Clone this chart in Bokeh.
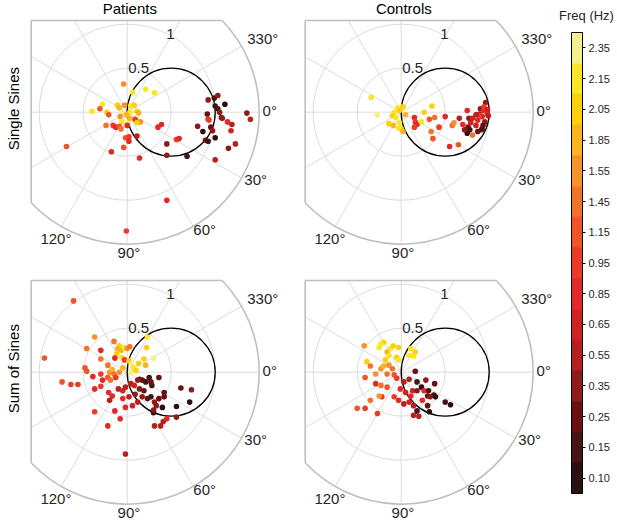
import numpy as np
from bokeh.plotting import figure
from bokeh.models import ColumnDataSource, LinearColorMapper, ColorBar, FixedTicker, Range1d
from bokeh.layouts import row, column
from bokeh.transform import transform
from bokeh.core.properties import value
from bokeh.embed import file_html
from bokeh.resources import INLINE

# ---------------- data ----------------
freq_levels = [0.10, 0.15, 0.25, 0.35, 0.55, 0.65, 0.85, 0.95, 1.15, 1.45, 1.55, 1.85, 2.05, 2.15, 2.35]
freq_tick_labels = ["0.10", "0.15", "0.25", "0.35", "0.55", "0.65", "0.85", "0.95",
                    "1.15", "1.45", "1.55", "1.85", "2.05", "2.15", "2.35"]
col_titles = ["Patients", "Controls"]
row_titles = ["Single Sines", "Sum of Sines"]
r_ticks = [0.5, 1]
r_tick_labels = ["0.5", "1"]
r_max = 1.5
theta_grid = [0, 30, 60, 90, 120, 150, 180, 210, 240, 270, 300, 330]
theta_ticks = [330, 0, 30, 60, 90, 120]
theta_tick_labels = ["330°", "0°", "30°", "60°", "90°", "120°"]
ref_center = 0.5
ref_radius = 0.5

# Patients, single sines (real / imaginary part of gain, frequency in Hz)
pat_single_re = [-0.04, 0.06, 0.21, 0.31, -0.28, -0.40, -0.31, -0.23, -0.21, -0.11, -0.09, -0.06, -0.03, 0.04,
                 0.08, 0.11, 0.13, 0.03, -0.01, -0.08, -0.06, 0.01, 0.03, 0.09, 0.15, 0.11, -0.24, -0.16,
                 -0.13, -0.09, -0.07, 0.00, -0.02, 0.02, 0.02, -0.04, -0.18, 0.14, 0.11, -0.69, 0.35, 0.39,
                 0.45, 0.56, 0.59, 0.45, 0.68, 0.80, 0.86, 0.89, 0.92, 0.95, 0.97, 1.00, 0.92, 0.93,
                 0.91, 0.92, 0.99, 1.03, 1.00, 1.11, 1.03, 1.05, 1.07, 1.08, 1.14, 1.19, 1.18, 1.23,
                 1.15, 1.36, 1.40, 1.00, 0.45, -0.01]
pat_single_im = [0.32, 0.23, 0.26, 0.22, 0.09, 0.01, 0.04, 0.00, -0.03, 0.08, 0.05, 0.00, 0.08, 0.07,
                 0.08, 0.01, -0.01, 0.00, -0.03, -0.05, -0.11, -0.11, -0.07, -0.08, -0.11, -0.12, -0.15, -0.15,
                 -0.17, -0.16, -0.19, -0.15, -0.29, -0.28, -0.33, -0.40, -0.45, -0.52, -0.27, -0.39, -0.17, -0.14,
                 -0.36, -0.31, -0.30, -0.49, -0.50, -0.16, -0.22, -0.32, -0.33, -0.17, -0.21, -0.29, -0.08, -0.09,
                 -0.02, 0.14, 0.16, 0.19, 0.07, 0.09, 0.04, 0.00, -0.06, -0.07, -0.11, -0.14, -0.21, -0.36,
                 -0.41, -0.01, -0.08, -0.54, -1.00, -1.35]
pat_single_freq = [1.55, 2.15, 2.15, 2.15, 2.15, 2.15, 1.15, 2.05, 1.15, 2.05, 1.85, 2.35, 1.55, 2.15,
                   2.05, 2.05, 1.85, 2.15, 1.85, 1.55, 2.15, 2.35, 1.85, 0.95, 1.55, 2.05, 1.45, 0.95,
                   0.85, 1.15, 1.45, 0.85, 1.15, 0.95, 0.85, 1.15, 0.85, 0.85, 0.55, 1.15, 0.85, 0.85,
                   0.35, 0.95, 0.85, 0.35, 0.15, 0.35, 0.10, 0.25, 0.15, 0.25, 0.35, 0.10, 0.85, 0.95,
                   0.25, 0.35, 0.15, 0.35, 0.15, 0.10, 0.15, 0.35, 0.25, 0.35, 0.85, 0.55, 0.65, 0.55,
                   0.35, 0.35, 0.55, 0.55, 0.85, 0.95]

# Controls, single sines
ctl_single_re = [-0.34, -0.27, -0.04, -0.02, 0.02, -0.08, -0.10, -0.06, -0.14, -0.09, -0.02, 0.00, 0.02, -0.03,
                 0.05, 0.15, 0.16, 0.18, 0.15, 0.23, 0.26, 0.35, 0.32, 0.38, 0.34, 0.36, 0.43, 0.50,
                 0.58, 0.60, 0.66, 0.70, 0.55, 0.65, 0.75, 0.77, 0.81, 0.76, 0.78, 0.75, 0.81, 0.85,
                 0.87, 0.89, 0.90, 0.94, 0.92, 0.96, 0.98, 0.91, 0.87, 0.92, 0.95, 0.99, 0.94, 0.89,
                 0.85, 0.79, 0.72, 0.93, 0.98]
ctl_single_im = [0.17, -0.03, 0.05, 0.02, 0.06, 0.00, -0.04, -0.06, -0.13, -0.15, -0.12, -0.19, -0.22, -0.18,
                 -0.03, -0.06, -0.11, -0.14, -0.17, -0.11, 0.00, 0.07, -0.08, -0.06, -0.22, -0.30, -0.17, -0.05,
                 -0.15, -0.12, -0.07, -0.14, -0.39, -0.37, 0.02, -0.07, -0.07, -0.17, -0.20, -0.24, -0.26, -0.15,
                 -0.09, -0.02, 0.04, 0.02, -0.05, 0.11, -0.02, -0.20, -0.22, -0.19, -0.11, -0.04, 0.06, -0.04,
                 -0.03, -0.12, -0.20, -0.15, 0.03]
ctl_single_freq = [2.15, 2.35, 2.15, 2.05, 2.05, 2.15, 2.05, 2.15, 2.05, 1.85, 2.15, 2.05, 1.85, 2.15,
                   1.85, 0.85, 0.95, 0.85, 0.95, 2.15, 2.05, 2.05, 1.15, 1.45, 1.45, 1.15, 0.95, 0.85,
                   1.45, 1.55, 0.55, 0.85, 0.85, 1.15, 0.85, 0.35, 0.65, 0.25, 0.15, 0.10, 1.45, 0.65,
                   0.85, 0.55, 0.35, 0.85, 0.65, 0.35, 0.85, 0.55, 0.25, 0.15, 0.35, 0.55, 0.95, 0.95,
                   0.55, 0.65, 0.35, 0.25, 0.65]

# Patients, sum of sines
pat_sum_re = [-0.61, -0.94, -0.46, -0.37, -0.30, -0.30, -0.15, -0.74, -0.64, -0.56, -0.48, -0.46, -0.39, -0.37,
              -0.37, -0.22, -0.08, -0.02, -0.20, -0.30, 0.23, 0.22, 0.30, 0.31, 0.38, 0.41, 0.45, 0.56,
              0.40, 0.56, 0.71, 0.61, 0.73, 0.42, 0.42, 0.36, 0.28, 0.30,
              -0.09, -0.11, -0.07, -0.03, 0.00, 0.03, -0.12, -0.14, -0.06, -0.03, 0.02, 0.05, 0.07, 0.10,
              0.04, 0.13, 0.19, 0.21, -0.22, -0.20, -0.17, -0.15, -0.22, -0.19, -0.13, -0.09, -0.05, -0.30,
              -0.28, -0.21, -0.17, -0.10, -0.05, -0.02, 0.04, -0.05, 0.02, 0.09, 0.14, 0.17, 0.21, 0.25,
              0.27, 0.14, 0.19, 0.17, 0.23, 0.27, 0.31, 0.33, 0.36, 0.12, 0.06, -0.02, -0.14, 0.30,
              0.08, 0.12]
pat_sum_im = [0.81, 0.16, 0.27, 0.40, 0.25, 0.15, 0.35, -0.11, -0.14, -0.14, 0.05, 0.01, -0.05, -0.19,
              -0.45, -0.61, -0.53, -0.93, -0.32, -0.16, 0.40, 0.28, 0.16, -0.61, -0.61, -0.56, -0.53, -0.51,
              -0.40, -0.39, -0.34, -0.18, -0.20, -0.23, -0.28, -0.06, -0.15, -0.46,
              0.30, 0.27, 0.25, 0.28, 0.27, 0.29, 0.21, 0.16, 0.17, 0.14, 0.13, 0.09, 0.05, 0.02,
              0.00, 0.10, 0.15, 0.08, 0.08, 0.00, 0.03, -0.02, -0.06, -0.09, -0.06, 0.00, 0.05, -0.02,
              -0.09, -0.23, -0.27, -0.19, -0.21, -0.17, -0.13, -0.30, -0.28, -0.25, -0.08, -0.09, -0.11, -0.06,
              -0.11, -0.19, -0.21, -0.28, -0.30, -0.28, -0.34, -0.38, -0.30, -0.34, -0.38, -0.40, -0.44, -0.43,
              -0.15, -0.09]
pat_sum_freq = [1.15, 1.15, 1.45, 1.55, 0.85, 1.45, 1.45, 1.15, 0.95, 0.95, 1.15, 1.15, 0.85, 0.85,
                0.95, 0.85, 0.85, 0.55, 0.55, 0.95, 2.15, 2.05, 2.35, 0.55, 0.55, 0.55, 0.85, 0.35,
                0.10, 0.10, 0.10, 0.25, 0.35, 0.25, 0.25, 0.25, 0.15, 0.10,
                2.05, 1.85, 1.85, 2.15, 1.55, 1.45, 2.05, 0.85, 2.15, 0.95, 2.05, 2.35, 2.15, 2.05,
                2.35, 2.05, 2.05, 1.85, 1.45, 1.55, 1.85, 1.45, 1.15, 1.45, 0.95, 1.55, 1.85, 0.95,
                0.85, 0.85, 0.85, 0.55, 0.65, 0.55, 0.55, 0.85, 0.55, 0.35, 0.25, 0.25, 0.15, 0.15,
                0.25, 0.35, 0.25, 0.35, 0.25, 0.15, 0.35, 0.35, 0.25, 0.55, 0.65, 0.85, 0.85, 0.35,
                0.65, 0.35]

# Controls, sum of sines
ctl_sum_re = [-0.42, -0.25, -0.20, -0.23, -0.16, -0.12, -0.09, -0.03, -0.05, -0.03, -0.14, -0.18, 0.11, 0.16,
              0.14, 0.09, -0.39, -0.35, -0.41, -0.29, -0.23, -0.20, -0.14, -0.10, -0.16, -0.08, -0.05, -0.29,
              -0.23, -0.16, -0.22, -0.25, -0.35, -0.50, -0.41, -0.27, -0.08, -0.01, 0.03, 0.09, 0.05, 0.11,
              0.13, 0.16, 0.18, 0.23, 0.18, 0.26, 0.30, 0.31, 0.37, 0.39, 0.38, 0.28, 0.33, 0.24,
              0.14, 0.09, 0.18, 0.30, 0.50, 0.56, 0.32, 0.14, 0.20, 0.03, -0.03]
ctl_sum_im = [0.30, 0.28, 0.34, 0.32, 0.23, 0.27, 0.30, 0.28, 0.17, 0.14, 0.19, 0.14, 0.27, 0.23,
              0.18, 0.19, 0.12, 0.07, -0.06, -0.02, 0.04, 0.07, 0.08, 0.04, -0.02, -0.03, -0.07, -0.13,
              -0.15, -0.17, -0.28, -0.27, -0.32, -0.41, -0.41, -0.47, -0.28, -0.19, -0.11, -0.08, -0.23, -0.27,
              -0.21, 0.01, -0.11, -0.17, -0.21, -0.21, -0.27, -0.21, -0.26, -0.28, -0.13, -0.09, -0.28, -0.32,
              -0.38, -0.34, -0.44, -0.38, -0.34, -0.37, -0.45, -0.49, -0.50, -0.36, -0.32]
ctl_sum_freq = [1.55, 2.15, 2.05, 2.15, 1.85, 2.15, 2.05, 2.05, 2.05, 2.15, 2.15, 2.05, 2.15, 2.05,
                2.15, 2.15, 2.05, 1.45, 1.15, 1.55, 1.55, 1.85, 1.55, 1.45, 1.45, 1.15, 0.95, 0.85,
                1.45, 1.15, 0.95, 1.55, 1.45, 1.15, 0.95, 0.95, 0.95, 0.85, 0.55, 0.55, 0.65, 0.85,
                0.65, 0.25, 0.15, 0.10, 0.35, 0.85, 0.25, 0.15, 0.15, 0.10, 0.25, 0.35, 0.35, 0.85,
                0.55, 0.65, 0.15, 0.25, 0.15, 0.10, 0.10, 0.55, 0.55, 0.55, 0.85]

# ---------------- style / layout ----------------
palette = ["#2b1010", "#461414", "#6a1010", "#8e1a1a", "#b52020", "#d02222", "#e22828", "#ea3a28",
           "#ee5529", "#f2742a", "#f6922a", "#fab41f", "#fdd10a", "#fbe625", "#f4ef8c"]
FONT = "Liberation Sans"
UNIT = 88.0              # px per gain unit
X_CLIP = -96.0 / UNIT
Y_CLIP = 91.7 / UNIT
GRID_COLOR = "#dcdcdc"
EDGE_COLOR = "#bfbfbf"
TEXT_COLOR = "#262626"
col_w = [278, 278]
row_h = [262, 264]
origin_x = [126.7, 122.7]   # polar origin inside each column figure, px
origin_y = [111.7, 109.7]   # polar origin inside each row figure, px
CB_W, CB_H = 61, 526

mapper = LinearColorMapper(palette=palette, low=-0.5, high=len(freq_levels) - 0.5)

theta_label_pos = {330: (1.54, 0.84), 0: (1.62, 0.02), 30: (1.46, -0.76),
                   60: (0.88, -1.33), 90: (0.02, -1.59), 120: (-0.81, -1.43)}
r_label_pos = {0.5: (0.13, 0.50), 1: (0.49, 0.89)}


def make_panel(re, im, fr, w, h, ox, oy, col_title=None, row_title=None):
    p = figure(width=w, height=h, output_backend="svg", toolbar_location=None,
               x_range=Range1d(-ox / UNIT, (w - ox) / UNIT),
               y_range=Range1d(-(h - oy) / UNIT, oy / UNIT),
               min_border=0, min_border_left=0, min_border_right=0, min_border_top=0, min_border_bottom=0)
    p.axis.visible = False
    p.grid.visible = False
    p.outline_line_color = None
    p.background_fill_color = "white"
    p.border_fill_color = "white"

    # angular grid lines, clipped to the visible region
    x1s, y1s = [], []
    for a in theta_grid:
        t = -np.radians(a)
        c, s = np.cos(t), np.sin(t)
        r_end = r_max
        if c < -1e-9:
            r_end = min(r_end, X_CLIP / c)
        if s > 1e-9:
            r_end = min(r_end, Y_CLIP / s)
        x1s.append(r_end * c)
        y1s.append(r_end * s)
    p.segment(x0=[0] * len(x1s), y0=[0] * len(y1s), x1=x1s, y1=y1s,
              line_color=GRID_COLOR, line_width=1)
    # radial grid circles
    p.circle(x=[0] * len(r_ticks), y=[0] * len(r_ticks), radius=r_ticks,
             fill_color=None, line_color=GRID_COLOR, line_width=1)
    # outer boundary
    x_top = np.sqrt(r_max ** 2 - Y_CLIP ** 2)
    y_left = -np.sqrt(r_max ** 2 - X_CLIP ** 2)
    a_start = np.arctan2(y_left, X_CLIP)
    a_end = np.arctan2(Y_CLIP, x_top)
    p.arc(x=[0], y=[0], radius=r_max, start_angle=a_start, end_angle=a_end,
          direction="anticlock", line_color=EDGE_COLOR, line_width=1.6)
    p.segment(x0=[X_CLIP, X_CLIP], y0=[Y_CLIP, Y_CLIP], x1=[x_top, X_CLIP], y1=[Y_CLIP, y_left],
              line_color=EDGE_COLOR, line_width=1.6)

    # reference circle
    p.circle(x=[ref_center], y=[0], radius=ref_radius, fill_color=None,
             line_color="black", line_width=1.3)

    lvl = [freq_levels.index(f) for f in fr]
    src = ColumnDataSource(dict(re=re, im=im, freq=fr, lvl=lvl))
    p.scatter("re", "im", source=src, size=5.6, marker="circle",
              fill_color=transform("lvl", mapper), line_color=None)

    # tick labels
    p.text(x=[theta_label_pos[a][0] for a in theta_ticks], y=[theta_label_pos[a][1] for a in theta_ticks],
           text=theta_tick_labels, text_font=value(FONT), text_font_size="15px",
           text_color=TEXT_COLOR, text_align="center", text_baseline="middle")
    p.text(x=[r_label_pos[r][0] for r in r_ticks], y=[r_label_pos[r][1] for r in r_ticks],
           text=r_tick_labels, text_font=value(FONT), text_font_size="15px",
           text_color=TEXT_COLOR, text_align="center", text_baseline="middle")

    if col_title:
        p.text(x=[0.03], y=[(oy - 8.0) / UNIT], text=[col_title], text_font=value(FONT),
               text_font_size="15px", text_color="black", text_align="center", text_baseline="middle")
    if row_title:
        p.text(x=[(12.5 - ox) / UNIT], y=[0.04], text=[row_title], text_font=value(FONT),
               text_font_size="15px", text_color="black", text_align="center", text_baseline="middle",
               angle=np.pi / 2)
    return p


p_tl = make_panel(pat_single_re, pat_single_im, pat_single_freq, col_w[0], row_h[0],
                  origin_x[0], origin_y[0], col_titles[0], row_titles[0])
p_tr = make_panel(ctl_single_re, ctl_single_im, ctl_single_freq, col_w[1], row_h[0],
                  origin_x[1], origin_y[0], col_titles[1], None)
p_bl = make_panel(pat_sum_re, pat_sum_im, pat_sum_freq, col_w[0], row_h[1],
                  origin_x[0], origin_y[1], None, row_titles[1])
p_br = make_panel(ctl_sum_re, ctl_sum_im, ctl_sum_freq, col_w[1], row_h[1],
                  origin_x[1], origin_y[1], None, None)

# colour bar figure
cb = figure(width=CB_W, height=CB_H, output_backend="svg", toolbar_location=None,
            x_range=Range1d(0, CB_W), y_range=Range1d(0, CB_H),
            min_border=0, min_border_left=0, min_border_right=0, min_border_top=0, min_border_bottom=0)
cb.axis.visible = False
cb.grid.visible = False
cb.outline_line_color = None
color_bar = ColorBar(color_mapper=mapper, orientation="vertical", location=(15, 33),
                     width=11, height=461, padding=0, margin=0,
                     ticker=FixedTicker(ticks=list(range(len(freq_levels)))),
                     major_label_overrides={i: lab for i, lab in enumerate(freq_tick_labels)},
                     major_label_text_font=FONT, major_label_text_font_size="11px",
                     major_label_text_color=TEXT_COLOR,
                     major_tick_line_color="black", major_tick_in=0, major_tick_out=3,
                     minor_tick_line_color=None, label_standoff=3,
                     bar_line_color="black", bar_line_width=1,
                     background_fill_color=None, border_line_color=None)
cb.add_layout(color_bar, "center")
cb.text(x=[30], y=[CB_H - 15], text=["Freq (Hz)"], text_font=value(FONT), text_font_size="13px",
        text_color=TEXT_COLOR, text_align="center", text_baseline="middle")

layout = row(column(row(p_tl, p_tr), row(p_bl, p_br)), cb)

with open("out.html", "w") as f:
    f.write(file_html(layout, INLINE))
